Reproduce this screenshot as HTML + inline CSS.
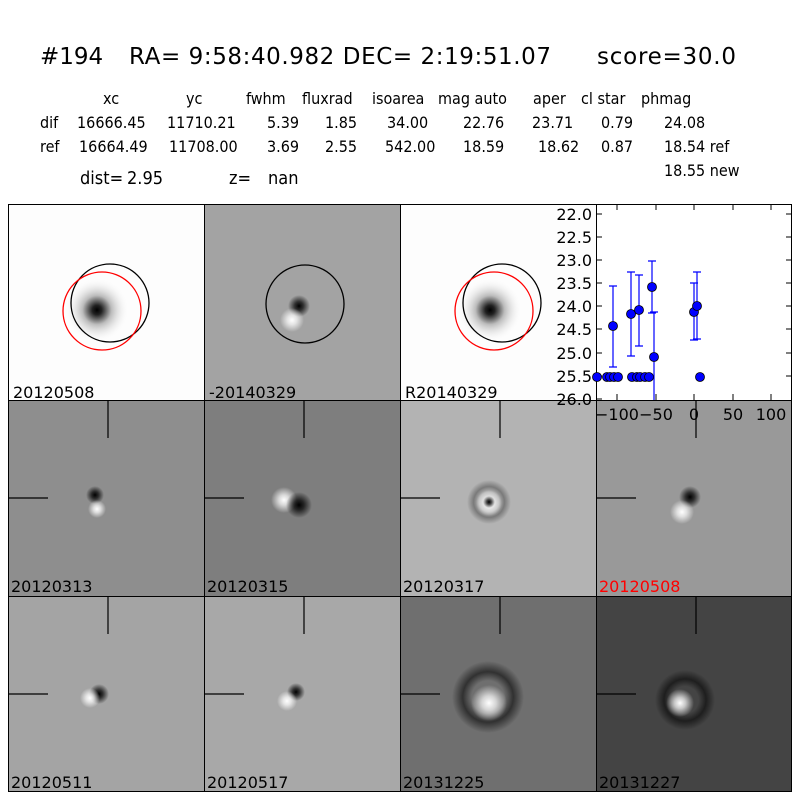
<!DOCTYPE html>
<html><head><meta charset="utf-8"><style>
html,body{margin:0;padding:0;background:#fff;width:800px;height:800px;overflow:hidden}
svg{display:block}
text{font-family:"DejaVu Sans Condensed","DejaVu Sans",sans-serif}
.t{font-family:"DejaVu Sans",sans-serif}
</style></head><body>
<svg width="800" height="800" viewBox="0 0 800 800" xmlns="http://www.w3.org/2000/svg">
<defs>
<radialGradient id="star"><stop offset="0" stop-color="#000"/><stop offset="0.15" stop-color="#222"/><stop offset="0.45" stop-color="#bbb"/><stop offset="1" stop-color="#fff" stop-opacity="0"/></radialGradient>
<radialGradient id="dk"><stop offset="0" stop-color="#000"/><stop offset="0.4" stop-color="#000" stop-opacity="0.7"/><stop offset="1" stop-color="#000" stop-opacity="0"/></radialGradient>
<radialGradient id="wt"><stop offset="0" stop-color="#fff"/><stop offset="0.4" stop-color="#fff" stop-opacity="0.7"/><stop offset="1" stop-color="#fff" stop-opacity="0"/></radialGradient>
<radialGradient id="ring"><stop offset="0.45" stop-color="#000" stop-opacity="0"/><stop offset="0.7" stop-color="#000" stop-opacity="0.8"/><stop offset="1" stop-color="#000" stop-opacity="0"/></radialGradient>
</defs>
<g font-size="23" class="t" fill="#000">
<text class="t" x="40" y="64">#194</text>
<text class="t" x="129" y="64" textLength="422">RA= 9:58:40.982 DEC= 2:19:51.07</text>
<text class="t" x="597" y="64" textLength="139">score=30.0</text>
</g>
<g font-size="16" fill="#000">
<text x="103" y="104">xc</text><text x="186" y="104">yc</text><text x="246" y="104">fwhm</text><text x="302" y="104">fluxrad</text><text x="372" y="104">isoarea</text><text x="438" y="104">mag auto</text><text x="533" y="104">aper</text><text x="581" y="104">cl star</text><text x="641" y="104">phmag</text>
<text x="40" y="128">dif</text><text x="77" y="128">16666.45</text><text x="167" y="128">11710.21</text><text x="267" y="128">5.39</text><text x="325" y="128">1.85</text><text x="387" y="128">34.00</text><text x="463" y="128">22.76</text><text x="532" y="128">23.71</text><text x="601" y="128">0.79</text><text x="664" y="128">24.08</text>
<text x="40" y="152">ref</text><text x="79" y="152">16664.49</text><text x="169" y="152">11708.00</text><text x="267" y="152">3.69</text><text x="325" y="152">2.55</text><text x="385" y="152">542.00</text><text x="463" y="152">18.59</text><text x="538" y="152">18.62</text><text x="601" y="152">0.87</text><text x="664" y="152">18.54 ref</text>
<text x="664" y="176">18.55 new</text>
</g>
<g font-size="18" fill="#000">
<text x="80" y="184">dist=</text><text x="127" y="184">2.95</text><text x="229" y="184">z=</text><text x="268" y="184">nan</text>
</g>

<!-- row 1 -->
<rect x="8" y="204" width="196" height="196" fill="#fdfdfd"/>
<circle cx="97" cy="310" r="32" fill="url(#star)"/>
<circle cx="110" cy="303" r="39" fill="none" stroke="#000" stroke-width="1.3"/>
<circle cx="102" cy="311" r="39" fill="none" stroke="#f00" stroke-width="1.3"/>
<rect x="204" y="204" width="196" height="196" fill="#a3a3a3"/>
<circle cx="299" cy="306" r="11" fill="url(#dk)"/>
<circle cx="292" cy="320" r="12" fill="url(#wt)"/>
<circle cx="305" cy="304" r="39" fill="none" stroke="#000" stroke-width="1.3"/>
<rect x="400" y="204" width="196" height="196" fill="#fdfdfd"/>
<circle cx="490" cy="310" r="32" fill="url(#star)"/>
<circle cx="502" cy="303" r="39" fill="none" stroke="#000" stroke-width="1.3"/>
<circle cx="494" cy="311" r="39" fill="none" stroke="#f00" stroke-width="1.3"/>
<rect x="596" y="204" width="196" height="196" fill="#fff"/>

<!-- row 2 -->
<rect x="8" y="400" width="196" height="196" fill="#8e8e8e"/>
<circle cx="95" cy="495" r="9" fill="url(#dk)"/><circle cx="97" cy="509" r="9" fill="url(#wt)"/>
<rect x="204" y="400" width="196" height="196" fill="#7e7e7e"/>
<circle cx="284" cy="500" r="13" fill="url(#wt)"/><circle cx="299" cy="505" r="13" fill="url(#dk)"/>
<rect x="400" y="400" width="196" height="196" fill="#b3b3b3"/>
<circle cx="489" cy="502" r="22" fill="url(#ring)" opacity="0.4"/><circle cx="489" cy="503" r="13" fill="url(#wt)"/><circle cx="489" cy="502" r="6" fill="url(#dk)"/>
<rect x="596" y="400" width="196" height="196" fill="#999"/>
<circle cx="690" cy="497" r="11" fill="url(#dk)"/><circle cx="682" cy="512" r="12" fill="url(#wt)"/>

<!-- row 3 -->
<rect x="8" y="596" width="196" height="196" fill="#a4a4a4"/>
<circle cx="99" cy="694" r="10" fill="url(#dk)"/><circle cx="90" cy="698" r="10" fill="url(#wt)"/>
<rect x="204" y="596" width="196" height="196" fill="#a8a8a8"/>
<circle cx="296" cy="692" r="9" fill="url(#dk)"/><circle cx="287" cy="701" r="10" fill="url(#wt)"/>
<rect x="400" y="596" width="196" height="196" fill="#6f6f6f"/>
<circle cx="488" cy="697" r="36" fill="url(#ring)" opacity="0.7"/><circle cx="489" cy="703" r="18" fill="url(#wt)"/>
<rect x="596" y="596" width="196" height="196" fill="#444"/>
<circle cx="685" cy="700" r="30" fill="url(#ring)" opacity="0.7"/><circle cx="680" cy="703" r="14" fill="url(#wt)"/>

<!-- crosshairs -->
<g stroke="#000" stroke-width="1.2">
<path d="M108 400V438M8 498H48M304 400V438M204 498H244M500 400V438M400 498H440M696 400V438M596 498H636"/>
<path d="M108 596V634M8 694H48M304 596V634M204 694H244M500 596V634M400 694H440M696 596V634M596 694H636"/>
</g>

<!-- labels -->
<g font-size="16" fill="#000">
<text class="t" x="13" y="398">20120508</text><text class="t" x="209" y="398">-20140329</text><text class="t" x="405" y="398">R20140329</text>
<text class="t" x="11" y="592">20120313</text><text class="t" x="207" y="592">20120315</text><text class="t" x="403" y="592">20120317</text><text class="t" x="599" y="592" fill="#f00">20120508</text>
<text class="t" x="11" y="788">20120511</text><text class="t" x="207" y="788">20120517</text><text class="t" x="403" y="788">20131225</text><text class="t" x="599" y="788">20131227</text>
</g>

<!-- panel borders -->
<g fill="none" stroke="#000" stroke-width="1">
<rect x="8.5" y="204.5" width="783" height="587"/>
<path d="M204.5 204V792M400.5 204V792M596.5 204V792M8 400.5H792M8 596.5H792"/>
</g>

<!-- light curve axes -->
<g stroke="#000" stroke-width="1">
<path d="M596 214h6M596 237h6M596 260h6M596 283h6M596 306h6M596 329h6M596 353h6M596 376h6M596 399h6"/>
<path d="M792 214h-6M792 237h-6M792 260h-6M792 283h-6M792 306h-6M792 329h-6M792 353h-6M792 376h-6"/>
<path d="M617 400v-6M656 400v-6M694 400v-6M733 400v-6M771 400v-6M617 204v6M656 204v6M694 204v6M733 204v6M771 204v6"/>
</g>
<g font-size="16" text-anchor="end" fill="#000">
<text class="t" x="592" y="220">22.0</text>
<text class="t" x="592" y="243">22.5</text>
<text class="t" x="592" y="266">23.0</text>
<text class="t" x="592" y="289">23.5</text>
<text class="t" x="592" y="312">24.0</text>
<text class="t" x="592" y="335">24.5</text>
<text class="t" x="592" y="359">25.0</text>
<text class="t" x="592" y="382">25.5</text>
<text class="t" x="592" y="405">26.0</text>
</g>
<g font-size="16" text-anchor="middle" fill="#000">
<text class="t" x="617" y="420">−100</text>
<text class="t" x="656" y="420">−50</text>
<text class="t" x="694" y="420">0</text>
<text class="t" x="733" y="420">50</text>
<text class="t" x="771" y="420">100</text>
</g>
<!-- error bars -->
<g stroke="#00f" stroke-width="1.2">
<path d="M613 286V367M609 286h8M609 367h8"/>
<path d="M631 272V356M627 272h8M627 356h8"/>
<path d="M639 275V346M635 275h8M635 346h8"/>
<path d="M652 261V313M648 261h8M648 313h8"/>
<path d="M654 312V400M650 312h8"/>
<path d="M694 283V340M690 283h8M690 340h8"/>
<path d="M697 272V339M693 272h8M693 339h8"/>
</g>
<g fill="#00f" stroke="#000" stroke-width="0.8">
<circle cx="597" cy="377" r="4.5"/><circle cx="607" cy="377" r="4.5"/><circle cx="610" cy="377" r="4.5"/><circle cx="614" cy="377" r="4.5"/><circle cx="618" cy="377" r="4.5"/>
<circle cx="632" cy="377" r="4.5"/><circle cx="637" cy="377" r="4.5"/><circle cx="640" cy="377" r="4.5"/><circle cx="645" cy="377" r="4.5"/><circle cx="649" cy="377" r="4.5"/>
<circle cx="613" cy="326" r="4.5"/><circle cx="631" cy="314" r="4.5"/><circle cx="639" cy="310" r="4.5"/><circle cx="652" cy="287" r="4.5"/><circle cx="654" cy="357" r="4.5"/>
<circle cx="694" cy="312" r="4.5"/><circle cx="697" cy="306" r="4.5"/><circle cx="700" cy="377" r="4.5"/>
</g>
</svg>
</body></html>
